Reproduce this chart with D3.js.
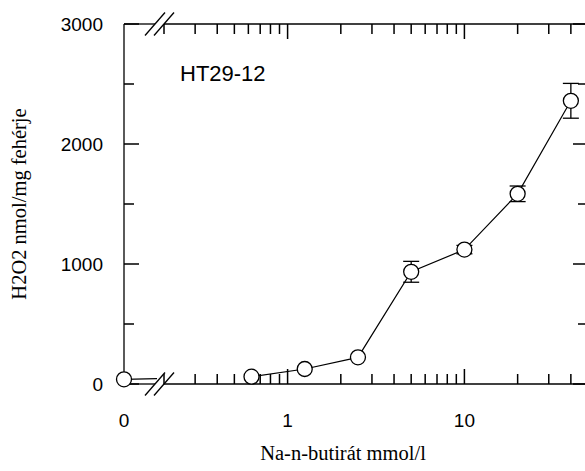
<!DOCTYPE html>
<html>
<head>
<meta charset="utf-8">
<script src="https://cdn.jsdelivr.net/npm/d3@7/dist/d3.min.js"></script>
<style>
  body { margin: 0; background: #fff; }
  svg { display: block; }
</style>
</head>
<body>
<div id="chart"></div>
<script>
// concentrations (mmol/l), 0 is drawn left of the axis break
const concentrations = [0, 0.625, 1.25, 2.5, 5, 10, 20, 40];
const h2o2 = [39, 61, 125, 222, 935, 1120, 1585, 2360];
const errors = [0, 0, 0, 0, 87, 35, 65, 145];

const yTicks = [0, 1000, 2000, 3000];
const yMinorTicks = [500, 1500, 2500];
const xTickLabels = ["0", "1", "10"];
const xTickValues = [0, 1, 10];
const xMinorTicks = [0.2, 0.3, 0.4, 0.5, 0.6, 0.7, 0.8, 0.9, 2, 3, 4, 5, 6, 7, 8, 9, 20, 30, 40, 50];
const xMajorTicks = [1, 10];

const width = 585, height = 471;
const plotLeft = 124, plotRight = 588, plotTop = 24, plotBottom = 384;
const zeroX = plotLeft;         // pixel position of the 0 value
const breakA = 155, breakB = 164;
const majorLen = 15, minorLen = 10;

const svg = d3.select("#chart").append("svg")
    .attr("width", width)
    .attr("height", height);

const y = d3.scaleLinear().domain([0, 3000]).range([plotBottom, plotTop]);
const x = d3.scaleLog().domain([0.2, 50]).range([164, plotRight]);
const xPos = v => v === 0 ? zeroX : x(v);

// ticks, pointing inward on all four sides, built as one path
const tp = d3.path();
function addXTicks(values, len) {
    values.forEach(v => {
        const px = x(v);
        tp.moveTo(px, plotBottom); tp.lineTo(px, plotBottom - len);
        tp.moveTo(px, plotTop); tp.lineTo(px, plotTop + len);
    });
}
function addYTicks(values, len) {
    values.forEach(v => {
        const py = y(v);
        tp.moveTo(plotLeft, py); tp.lineTo(plotLeft + len, py);
        tp.moveTo(plotRight, py); tp.lineTo(plotRight - len, py);
    });
}
addXTicks(xMinorTicks, minorLen);
addXTicks(xMajorTicks, majorLen);
addYTicks(yMinorTicks, minorLen);
addYTicks(yTicks, majorLen);
svg.append("path")
    .attr("d", tp.toString())
    .attr("fill", "none")
    .attr("stroke", "#000")
    .attr("stroke-width", 1.5);

// frame with the axis break
const frame = svg.append("g").attr("stroke", "#000").attr("stroke-width", 1.3).attr("fill", "none");
frame.append("line").attr("x1", plotLeft).attr("y1", plotTop).attr("x2", plotLeft).attr("y2", plotBottom);
frame.append("line").attr("x1", plotRight).attr("y1", plotTop).attr("x2", plotRight).attr("y2", plotBottom);
[plotTop, plotBottom].forEach(yy => {
    frame.append("line").attr("x1", plotLeft).attr("y1", yy).attr("x2", breakA).attr("y2", yy);
    frame.append("line").attr("x1", breakB).attr("y1", yy).attr("x2", plotRight).attr("y2", yy);
    [breakA, breakB].forEach(bx => {
        frame.append("line")
            .attr("x1", bx - 10).attr("y1", yy + 11.5)
            .attr("x2", bx + 10).attr("y2", yy - 11.5);
    });
});

// tick labels
svg.append("g").selectAll("text")
    .data(yTicks)
    .enter().append("text")
    .attr("x", 103)
    .attr("y", d => y(d))
    .attr("dy", "0.35em")
    .attr("text-anchor", "end")
    .attr("font-family", "Liberation Sans, Arial, sans-serif")
    .attr("font-size", 19)
    .text(d => d);

svg.append("g").selectAll("text")
    .data(xTickValues)
    .enter().append("text")
    .attr("x", d => xPos(d))
    .attr("y", 427)
    .attr("text-anchor", "middle")
    .attr("font-family", "Liberation Sans, Arial, sans-serif")
    .attr("font-size", 19)
    .text((d, i) => xTickLabels[i]);

// axis titles
svg.append("text")
    .attr("x", 343)
    .attr("y", 460)
    .attr("text-anchor", "middle")
    .attr("font-family", "Liberation Serif, Times New Roman, serif")
    .attr("font-size", 20.5)
    .text("Na-n-butirát mmol/l");

svg.append("text")
    .attr("transform", "translate(26,204) rotate(-90)")
    .attr("text-anchor", "middle")
    .attr("font-family", "Liberation Serif, Times New Roman, serif")
    .attr("font-size", 20.5)
    .text("H2O2 nmol/mg fehérje");

svg.append("text")
    .attr("x", 180)
    .attr("y", 81)
    .attr("font-family", "Liberation Sans, Arial, sans-serif")
    .attr("font-size", 22)
    .text("HT29-12");

// data line: the 0 point only reaches to the break
const points = concentrations.map((c, i) => ({c, v: h2o2[i], e: errors[i]}));
const p0 = points[0], p1 = points[1];
const t = (breakA + 2 - xPos(p0.c)) / (xPos(p1.c) - xPos(p0.c));
svg.append("line")
    .attr("x1", xPos(p0.c)).attr("y1", y(p0.v))
    .attr("x2", breakA + 2).attr("y2", y(p0.v) + (y(p1.v) - y(p0.v)) * t)
    .attr("stroke", "#000").attr("stroke-width", 1.2);

const line = d3.line().x(d => xPos(d.c)).y(d => y(d.v));
svg.append("path")
    .datum(points.slice(1))
    .attr("d", line)
    .attr("fill", "none")
    .attr("stroke", "#000")
    .attr("stroke-width", 1.2);

// error bars
const eb = svg.append("g").attr("stroke", "#000").attr("stroke-width", 1.3);
points.filter(d => d.e > 0).forEach(d => {
    const cx = xPos(d.c);
    eb.append("line").attr("x1", cx).attr("x2", cx).attr("y1", y(d.v - d.e)).attr("y2", y(d.v + d.e));
    [d.v - d.e, d.v + d.e].forEach(v => {
        eb.append("line").attr("x1", cx - 8).attr("x2", cx + 8).attr("y1", y(v)).attr("y2", y(v));
    });
});

// markers
svg.append("g").selectAll("circle")
    .data(points)
    .enter().append("circle")
    .attr("cx", d => xPos(d.c))
    .attr("cy", d => y(d.v))
    .attr("r", 7.5)
    .attr("fill", "#fff")
    .attr("stroke", "#000")
    .attr("stroke-width", 1.3);
</script>
</body>
</html>
